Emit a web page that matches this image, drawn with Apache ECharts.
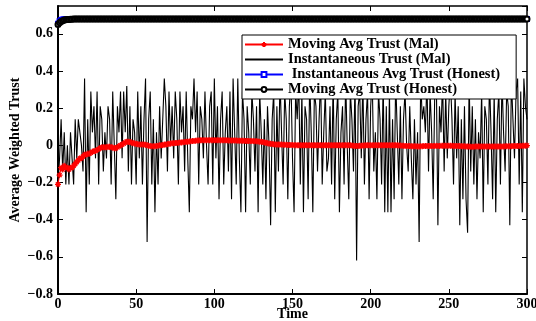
<!DOCTYPE html>
<html><head><meta charset="utf-8">
<script src="https://cdn.jsdelivr.net/npm/echarts@6/dist/echarts.min.js"></script>
<style>html,body{margin:0;padding:0;background:#fff}#c{width:536px;height:321px}</style>
</head><body><div id="c"></div>
<script>
// ---- data ----
const seriesNames = ['Moving Avg Trust (Mal)', 'Instantaneous Trust (Mal)', ' Instantaneous Avg Trust (Honest)', 'Moving Avg Trust (Honest)'];
const xTicks = [0, 50, 100, 150, 200, 250, 300];
const yTicks = [-0.8, -0.6, -0.4, -0.2, 0, 0.2, 0.4, 0.6];

const movingMal = [
-0.21,-0.16,-0.12,-0.13,-0.11,-0.12,-0.12,-0.13,-0.12,-0.12,-0.11,-0.10,-0.09,-0.08,-0.07,-0.07,-0.06,-0.05,-0.05,-0.045,
-0.045,-0.04,-0.035,-0.03,-0.03,-0.025,-0.02,-0.015,-0.01,-0.01,-0.01,-0.01,-0.008,-0.008,-0.01,-0.012,-0.015,-0.015,-0.01,-0.005,
0.0,0.005,0.01,0.015,0.02,0.02,0.018,0.015,0.012,0.01,0.008,0.006,0.005,0.005,0.005,0.005,0.003,0.0,-0.002,-0.004,
-0.005,-0.005,-0.005,-0.004,-0.002,0.0,0.0,0.002,0.004,0.005,0.006,0.008,0.01,0.011,0.012,0.013,0.013,0.014,0.015,0.016,
0.017,0.018,0.019,0.02,0.021,0.022,0.023,0.024,0.025,0.026,0.026,0.027,0.027,0.027,0.028,0.028,0.028,0.028,0.028,0.028,
0.028,0.028,0.027,0.027,0.027,0.027,0.027,0.027,0.027,0.026,0.026,0.026,0.026,0.026,0.026,0.025,0.025,0.025,0.025,0.025,
0.024,0.024,0.024,0.023,0.023,0.023,0.022,0.022,0.021,0.02,0.019,0.018,0.016,0.014,0.012,0.01,0.008,0.007,0.006,0.005,
0.005,0.004,0.004,0.004,0.003,0.003,0.003,0.002,0.002,0.002,0.002,0.001,0.001,0.001,0.001,0.0,0.0,0.0,0.0,0.0,
0.0,0.0,0.0,0.0,0.0,0.0,0.0,0.0,0.0,0.0,0.0,0.0,0.0,0.0,0.0,0.0,0.0,0.0,0.0,0.0,
0.0,0.0,0.001,0.001,0.001,0.001,0.0,0.0,-0.001,-0.002,-0.003,-0.004,-0.003,-0.002,-0.002,-0.001,-0.001,0.0,0.0,0.0,
0.0,0.0,0.0,0.0,0.0,0.0,0.0,0.0,0.0,0.0,0.0,0.0,0.0,0.0,0.0,0.0,0.0,0.0,-0.001,-0.001,
-0.002,-0.002,-0.003,-0.003,-0.004,-0.004,-0.005,-0.005,-0.005,-0.005,-0.006,-0.006,-0.005,-0.005,-0.004,-0.004,-0.003,-0.003,-0.003,-0.003,
-0.003,-0.003,-0.002,-0.003,-0.003,-0.002,-0.002,-0.002,-0.002,-0.002,-0.002,-0.002,-0.002,-0.003,-0.003,-0.003,-0.004,-0.004,-0.005,-0.005,
-0.005,-0.006,-0.006,-0.006,-0.007,-0.007,-0.007,-0.006,-0.006,-0.006,-0.006,-0.006,-0.006,-0.006,-0.006,-0.006,-0.006,-0.006,-0.006,-0.006,
-0.006,-0.006,-0.006,-0.006,-0.006,-0.006,-0.005,-0.005,-0.005,-0.005,-0.005,-0.004,-0.004,-0.004,-0.003,-0.003,-0.003,-0.002,-0.002,-0.002,
-0.001
];

const instMal = [
-0.21,-0.07,0.14,-0.14,0.07,-0.21,0.0,-0.21,0.07,-0.07,-0.21,0.14,-0.07,0.14,0.07,0.0,-0.14,0.36,-0.36,0.14,
-0.21,0.29,0.07,0.21,-0.07,0.29,-0.21,0.21,0.14,-0.14,0.07,-0.07,0.21,0.14,-0.21,0.29,0.0,-0.29,0.21,0.07,
0.29,-0.07,0.29,0.07,0.32,-0.14,0.21,-0.21,0.14,0.07,-0.21,0.29,-0.07,0.21,-0.21,0.14,0.36,-0.52,0.14,0.29,
-0.21,0.14,-0.36,0.07,-0.21,0.21,-0.07,0.14,0.36,0.21,-0.14,0.29,0.0,0.21,-0.07,0.29,0.14,-0.21,0.29,0.07,
0.21,-0.14,0.29,-0.07,-0.36,0.21,0.14,0.36,0.07,0.29,-0.21,0.21,0.14,-0.07,0.29,0.0,-0.21,0.21,0.29,-0.21,
0.36,-0.07,0.21,-0.29,0.14,0.29,-0.21,0.07,0.21,-0.14,0.29,-0.29,0.36,0.07,-0.21,0.36,-0.07,-0.36,0.29,0.14,
-0.36,0.21,0.07,-0.21,0.29,0.14,-0.14,0.21,-0.36,0.29,0.07,-0.21,0.14,-0.29,0.21,0.0,-0.43,0.14,0.29,-0.36,
0.21,-0.14,0.36,0.07,-0.21,0.29,0.14,-0.29,0.21,0.36,-0.07,-0.36,0.29,0.14,0.36,-0.21,0.29,-0.36,0.21,0.14,
-0.29,0.36,0.07,-0.36,0.29,0.21,-0.14,0.14,0.36,-0.21,0.07,0.29,-0.14,-0.07,0.21,-0.21,0.36,-0.29,0.14,0.29,
-0.36,0.07,0.21,-0.21,0.36,0.0,-0.29,0.29,0.14,-0.14,0.36,-0.62,0.21,0.29,-0.07,0.36,-0.21,0.14,0.29,-0.29,
0.21,0.36,-0.14,0.07,-0.29,0.29,0.14,-0.21,0.36,-0.36,0.21,-0.36,0.29,-0.36,0.14,-0.29,0.36,0.07,-0.21,0.21,
-0.29,0.14,0.29,0.0,-0.14,0.21,-0.07,-0.29,0.14,-0.21,0.07,-0.52,0.36,0.14,0.21,0.07,0.36,-0.14,0.29,0.07,
-0.29,0.29,0.36,-0.43,0.21,0.07,0.36,-0.14,0.29,-0.07,0.21,0.36,0.14,-0.21,0.29,-0.07,0.21,-0.43,0.14,-0.29,
0.21,-0.29,-0.47,0.36,-0.14,0.21,-0.21,0.14,-0.29,0.07,-0.07,0.29,-0.36,0.21,0.14,-0.21,0.36,0.07,-0.29,0.29,
-0.36,0.14,0.29,-0.21,0.36,0.07,-0.14,0.29,0.21,-0.43,0.36,0.14,-0.07,0.29,0.36,-0.21,0.29,-0.36,0.36,0.21,
0.14
];

const instHonest = [
0.655,0.668,0.674,0.677,0.679,0.68,0.68,0.68,0.68,0.68,0.68,0.68,0.68,0.68,0.68,0.68,0.68,0.68,0.68,0.68,
0.68,0.68,0.68,0.68,0.68,0.68,0.68,0.68,0.68,0.68,0.68,0.68,0.68,0.68,0.68,0.68,0.68,0.68,0.68,0.68,
0.68,0.68,0.68,0.68,0.68,0.68,0.68,0.68,0.68,0.68,0.68,0.68,0.68,0.68,0.68,0.68,0.68,0.68,0.68,0.68,
0.68,0.68,0.68,0.68,0.68,0.68,0.68,0.68,0.68,0.68,0.68,0.68,0.68,0.68,0.68,0.68,0.68,0.68,0.68,0.68,
0.68,0.68,0.68,0.68,0.68,0.68,0.68,0.68,0.68,0.68,0.68,0.68,0.68,0.68,0.68,0.68,0.68,0.68,0.68,0.68,
0.68,0.68,0.68,0.68,0.68,0.68,0.68,0.68,0.68,0.68,0.68,0.68,0.68,0.68,0.68,0.68,0.68,0.68,0.68,0.68,
0.68,0.68,0.68,0.68,0.68,0.68,0.68,0.68,0.68,0.68,0.68,0.68,0.68,0.68,0.68,0.68,0.68,0.68,0.68,0.68,
0.68,0.68,0.68,0.68,0.68,0.68,0.68,0.68,0.68,0.68,0.68,0.68,0.68,0.68,0.68,0.68,0.68,0.68,0.68,0.68,
0.68,0.68,0.68,0.68,0.68,0.68,0.68,0.68,0.68,0.68,0.68,0.68,0.68,0.68,0.68,0.68,0.68,0.68,0.68,0.68,
0.68,0.68,0.68,0.68,0.68,0.68,0.68,0.68,0.68,0.68,0.68,0.68,0.68,0.68,0.68,0.68,0.68,0.68,0.68,0.68,
0.68,0.68,0.68,0.68,0.68,0.68,0.68,0.68,0.68,0.68,0.68,0.68,0.68,0.68,0.68,0.68,0.68,0.68,0.68,0.68,
0.68,0.68,0.68,0.68,0.68,0.68,0.68,0.68,0.68,0.68,0.68,0.68,0.68,0.68,0.68,0.68,0.68,0.68,0.68,0.68,
0.68,0.68,0.68,0.68,0.68,0.68,0.68,0.68,0.68,0.68,0.68,0.68,0.68,0.68,0.68,0.68,0.68,0.68,0.68,0.68,
0.68,0.68,0.68,0.68,0.68,0.68,0.68,0.68,0.68,0.68,0.68,0.68,0.68,0.68,0.68,0.68,0.68,0.68,0.68,0.68,
0.68,0.68,0.68,0.68,0.68,0.68,0.68,0.68,0.68,0.68,0.68,0.68,0.68,0.68,0.68,0.68,0.68,0.68,0.68,0.68,
0.68
];

const movingHonest = [
0.65,0.66,0.667,0.671,0.674,0.676,0.677,0.678,0.679,0.679,0.68,0.68,0.68,0.68,0.68,0.68,0.68,0.68,0.68,0.68,
0.68,0.68,0.68,0.68,0.68,0.68,0.68,0.68,0.68,0.68,0.68,0.68,0.68,0.68,0.68,0.68,0.68,0.68,0.68,0.68,
0.68,0.68,0.68,0.68,0.68,0.68,0.68,0.68,0.68,0.68,0.68,0.68,0.68,0.68,0.68,0.68,0.68,0.68,0.68,0.68,
0.68,0.68,0.68,0.68,0.68,0.68,0.68,0.68,0.68,0.68,0.68,0.68,0.68,0.68,0.68,0.68,0.68,0.68,0.68,0.68,
0.68,0.68,0.68,0.68,0.68,0.68,0.68,0.68,0.68,0.68,0.68,0.68,0.68,0.68,0.68,0.68,0.68,0.68,0.68,0.68,
0.68,0.68,0.68,0.68,0.68,0.68,0.68,0.68,0.68,0.68,0.68,0.68,0.68,0.68,0.68,0.68,0.68,0.68,0.68,0.68,
0.68,0.68,0.68,0.68,0.68,0.68,0.68,0.68,0.68,0.68,0.68,0.68,0.68,0.68,0.68,0.68,0.68,0.68,0.68,0.68,
0.68,0.68,0.68,0.68,0.68,0.68,0.68,0.68,0.68,0.68,0.68,0.68,0.68,0.68,0.68,0.68,0.68,0.68,0.68,0.68,
0.68,0.68,0.68,0.68,0.68,0.68,0.68,0.68,0.68,0.68,0.68,0.68,0.68,0.68,0.68,0.68,0.68,0.68,0.68,0.68,
0.68,0.68,0.68,0.68,0.68,0.68,0.68,0.68,0.68,0.68,0.68,0.68,0.68,0.68,0.68,0.68,0.68,0.68,0.68,0.68,
0.68,0.68,0.68,0.68,0.68,0.68,0.68,0.68,0.68,0.68,0.68,0.68,0.68,0.68,0.68,0.68,0.68,0.68,0.68,0.68,
0.68,0.68,0.68,0.68,0.68,0.68,0.68,0.68,0.68,0.68,0.68,0.68,0.68,0.68,0.68,0.68,0.68,0.68,0.68,0.68,
0.68,0.68,0.68,0.68,0.68,0.68,0.68,0.68,0.68,0.68,0.68,0.68,0.68,0.68,0.68,0.68,0.68,0.68,0.68,0.68,
0.68,0.68,0.68,0.68,0.68,0.68,0.68,0.68,0.68,0.68,0.68,0.68,0.68,0.68,0.68,0.68,0.68,0.68,0.68,0.68,
0.68,0.68,0.68,0.68,0.68,0.68,0.68,0.68,0.68,0.68,0.68,0.68,0.68,0.68,0.68,0.68,0.68,0.68,0.68,0.68,
0.68
];

// ---- chart ----
const pairs = arr => arr.map((v, i) => [i, v]);
const FONT = '"Liberation Serif", "Times New Roman", serif';
const asterisk = 'path://M0,5 L10,5 M5,0 L5,10 M1.5,1.5 L8.5,8.5 M8.5,1.5 L1.5,8.5';
const fmtY = v => (Math.abs(v) < 1e-9 ? '0' : (v < 0 ? '\u2212' : '') + Math.abs(v).toFixed(1));

const chart = echarts.init(document.getElementById('c'), null, {renderer: 'canvas'});
const tickCommon = {show: true, inside: true, length: 5, lineStyle: {color: '#000', width: 1}};
chart.setOption({
  animation: false,
  backgroundColor: '#fff',
  grid: {left: 58, right: 9, top: 6, bottom: 27, containLabel: false, outerBoundsMode: 'none'},
  legend: {
    orient: 'vertical', left: 242, top: 35,
    data: [
      {name: seriesNames[0]},
      {name: seriesNames[1], itemStyle: {color: 'rgba(0,0,0,0)', borderColor: 'rgba(0,0,0,0)', opacity: 0}},
      {name: seriesNames[2]},
      {name: seriesNames[3]}
    ],
    backgroundColor: '#fff', borderColor: '#000', borderWidth: 1, borderRadius: 0,
    padding: [2, 16, 2, 2], itemGap: 0, itemWidth: 38, itemHeight: 6,
    textStyle: {fontFamily: FONT, fontWeight: 'bold', fontSize: 14.5, lineHeight: 15, color: '#000'}
  },
  xAxis: [
    {type: 'value', position: 'bottom', min: xTicks[0], max: xTicks[xTicks.length - 1], interval: 50,
     name: 'Time', nameLocation: 'middle', nameGap: 20, nameMoveOverlap: false,
     nameTextStyle: {fontFamily: FONT, fontWeight: 'bold', fontSize: 14, color: '#000', verticalAlign: 'middle'},
     axisLine: {show: true, onZero: false, lineStyle: {color: '#000', width: 2}},
     axisTick: tickCommon, splitLine: {show: false},
     axisLabel: {fontFamily: FONT, fontWeight: 'bold', fontSize: 14, color: '#000', margin: 3}},
    {type: 'value', position: 'top', min: xTicks[0], max: xTicks[xTicks.length - 1], interval: 50,
     axisLine: {show: true, onZero: false, lineStyle: {color: '#000', width: 1.5}},
     axisTick: tickCommon, splitLine: {show: false}, axisLabel: {show: false}}
  ],
  yAxis: [
    {type: 'value', position: 'left', min: yTicks[0], max: 0.75, interval: 0.2,
     name: 'Average Weighted Trust', nameLocation: 'middle', nameGap: 43, nameRotate: 90, nameMoveOverlap: false,
     nameTextStyle: {fontFamily: FONT, fontWeight: 'bold', fontSize: 14, color: '#000', verticalAlign: 'middle'},
     axisLine: {show: true, onZero: false, lineStyle: {color: '#000', width: 2}},
     axisTick: tickCommon, splitLine: {show: false},
     axisLabel: {fontFamily: FONT, fontWeight: 'bold', fontSize: 14, color: '#000', margin: 5,
                 showMaxLabel: false, formatter: fmtY}},
    {type: 'value', position: 'right', min: yTicks[0], max: 0.75, interval: 0.2,
     axisLine: {show: true, onZero: false, lineStyle: {color: '#000', width: 1.5}},
     axisTick: tickCommon, splitLine: {show: false}, axisLabel: {show: false}}
  ],
  series: [
    {name: seriesNames[0], type: 'line', data: pairs(movingMal), z: 5,
     symbol: asterisk, symbolSize: 6, showAllSymbol: true,
     lineStyle: {color: '#ff0000', width: 1}, itemStyle: {color: '#ff0000', borderColor: '#ff0000', borderWidth: 1.2}},
    {name: seriesNames[1], type: 'line', data: pairs(instMal), z: 3,
     symbol: 'none', lineStyle: {color: '#000', width: 1.1}, itemStyle: {color: '#000'}},
    {name: seriesNames[2], type: 'line', data: pairs(instHonest), z: 3,
     symbol: 'emptyRect', symbolSize: 4, showAllSymbol: true,
     lineStyle: {color: '#0000ff', width: 1}, itemStyle: {color: '#0000ff', borderColor: '#0000ff', borderWidth: 1}},
    {name: seriesNames[3], type: 'line', data: pairs(movingHonest), z: 4,
     symbol: 'emptyCircle', symbolSize: 5, showAllSymbol: true,
     lineStyle: {color: '#000', width: 1}, itemStyle: {color: '#000', borderColor: '#000', borderWidth: 1}}
  ]
});
</script>
</body></html>
